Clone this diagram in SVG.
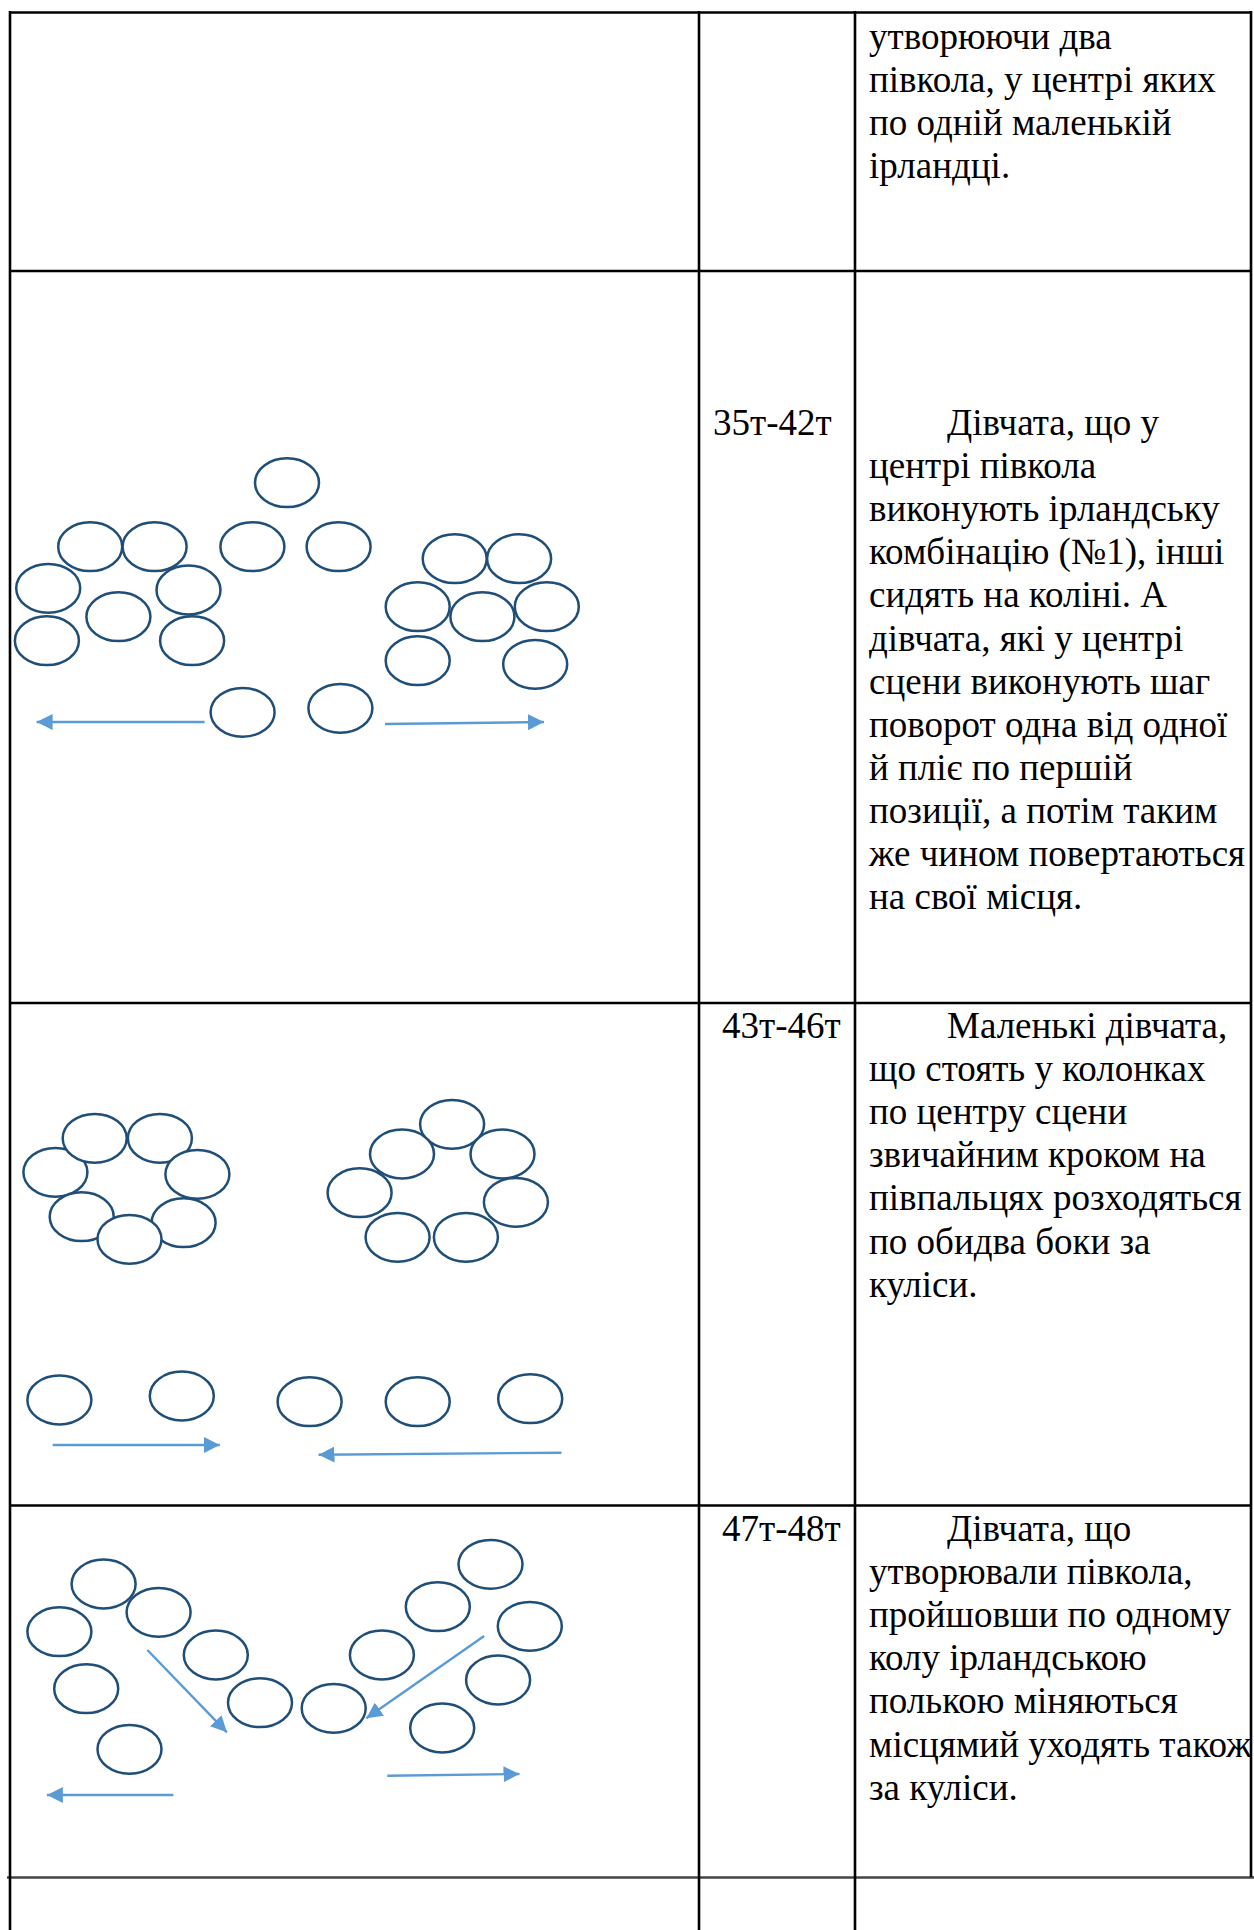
<svg xmlns="http://www.w3.org/2000/svg" width="1254" height="1930" viewBox="0 0 1254 1930">
<style>
.b{stroke:#000;stroke-width:2.6;fill:none}
.g{stroke:#444;stroke-width:2.4;fill:none}
.c{fill:#fff;stroke:#1F4E79;stroke-width:2.5}
.a{stroke:#5B9BD5;stroke-width:2.4;fill:none;marker-end:url(#ah)}
.t{font-family:"Liberation Serif","Times New Roman",serif;font-size:37px;fill:#000}
</style>
<defs>
<marker id="ah" viewBox="0 0 16 16" refX="16" refY="8" markerWidth="16" markerHeight="16" markerUnits="userSpaceOnUse" orient="auto"><path d="M0,0 L16,8 L0,16 z" fill="#5B9BD5"/></marker>
<clipPath id="clip"><rect x="0" y="0" width="1252" height="1930"/></clipPath>
</defs>
<rect width="1254" height="1930" fill="#fff"/>
<g id="table">
<line class="b" x1="10" y1="12.5" x2="1251" y2="12.5"/>
<line class="b" x1="10" y1="271" x2="1251" y2="271"/>
<line class="b" x1="10" y1="1003" x2="1251" y2="1003"/>
<line class="b" x1="10" y1="1505.5" x2="1251" y2="1505.5"/>
<line class="g" x1="7" y1="1877.5" x2="1254" y2="1877.5"/>
<line class="b" x1="10" y1="11" x2="10" y2="1930"/>
<line class="b" x1="699" y1="11" x2="699" y2="1930"/>
<line class="b" x1="855" y1="11" x2="855" y2="1930"/>
<line class="b" x1="1251" y1="11" x2="1251" y2="1877"/>
</g>
<g id="texts" class="t" clip-path="url(#clip)">
<text x="869" y="49">утворюючи два</text>
<text x="869" y="92.1">півкола, у центрі яких</text>
<text x="869" y="135.2">по одній маленькій</text>
<text x="869" y="178.3">ірландці.</text>
<text x="713" y="435">35т-42т</text>
<text x="947" y="435">Дівчата, що у</text>
<text x="869" y="478.1">центрі півкола</text>
<text x="869" y="521.2">виконують ірландську</text>
<text x="869" y="564.3">комбінацію (№1), інші</text>
<text x="869" y="607.4">сидять на коліні. А</text>
<text x="869" y="650.5">дівчата, які у центрі</text>
<text x="869" y="693.6">сцени виконують шаг</text>
<text x="869" y="736.7">поворот одна від одної</text>
<text x="869" y="779.8">й пліє по першій</text>
<text x="869" y="822.9">позиції, а потім таким</text>
<text x="869" y="866">же чином повертаються</text>
<text x="869" y="909.1">на свої місця.</text>
<text x="722" y="1038">43т-46т</text>
<text x="947" y="1038">Маленькі дівчата,</text>
<text x="869" y="1081.1">що стоять у колонках</text>
<text x="869" y="1124.2">по центру сцени</text>
<text x="869" y="1167.3">звичайним кроком на</text>
<text x="869" y="1210.4">півпальцях розходяться</text>
<text x="869" y="1253.5">по обидва боки за</text>
<text x="869" y="1296.6">куліси.</text>
<text x="722" y="1541">47т-48т</text>
<text x="947" y="1541">Дівчата, що</text>
<text x="869" y="1584.1">утворювали півкола,</text>
<text x="869" y="1627.2">пройшовши по одному</text>
<text x="869" y="1670.3">колу ірландською</text>
<text x="869" y="1713.4">полькою міняються</text>
<text x="869" y="1756.5">місцямий уходять також</text>
<text x="869" y="1799.6">за куліси.</text>
</g>
<g id="dancers-row2">
<ellipse class="c" cx="287" cy="482.7" rx="32" ry="24.4"/>
<ellipse class="c" cx="90.2" cy="546.7" rx="32" ry="24.4"/>
<ellipse class="c" cx="154.6" cy="546.7" rx="32" ry="24.4"/>
<ellipse class="c" cx="252.4" cy="546.7" rx="32" ry="24.4"/>
<ellipse class="c" cx="338.6" cy="546.7" rx="32" ry="24.4"/>
<ellipse class="c" cx="48.2" cy="588.3" rx="32" ry="24.4"/>
<ellipse class="c" cx="188.5" cy="590" rx="32" ry="24.4"/>
<ellipse class="c" cx="118.4" cy="616.7" rx="32" ry="24.4"/>
<ellipse class="c" cx="46.9" cy="640.7" rx="32" ry="24.4"/>
<ellipse class="c" cx="192.1" cy="640.7" rx="32" ry="24.4"/>
<ellipse class="c" cx="454.7" cy="558.7" rx="32" ry="24.4"/>
<ellipse class="c" cx="519.1" cy="558.7" rx="32" ry="24.4"/>
<ellipse class="c" cx="417.7" cy="606.7" rx="32" ry="24.4"/>
<ellipse class="c" cx="546.8" cy="606.7" rx="32" ry="24.4"/>
<ellipse class="c" cx="482.4" cy="616.7" rx="32" ry="24.4"/>
<ellipse class="c" cx="417.7" cy="660.7" rx="32" ry="24.4"/>
<ellipse class="c" cx="535.2" cy="664.3" rx="32" ry="24.4"/>
<ellipse class="c" cx="242.6" cy="712.3" rx="32" ry="24.4"/>
<ellipse class="c" cx="340.4" cy="708.3" rx="32" ry="24.4"/>
</g>
<g id="dancers-row3">
<ellipse class="c" cx="55.4" cy="1172.3" rx="32" ry="24.4"/>
<ellipse class="c" cx="94.7" cy="1138.3" rx="32" ry="24.4"/>
<ellipse class="c" cx="159.9" cy="1138.3" rx="32" ry="24.4"/>
<ellipse class="c" cx="197.4" cy="1174.3" rx="32" ry="24.4"/>
<ellipse class="c" cx="81.7" cy="1216.7" rx="32" ry="24.4"/>
<ellipse class="c" cx="183.6" cy="1222.7" rx="32" ry="24.4"/>
<ellipse class="c" cx="129.5" cy="1239.3" rx="32" ry="24.4"/>
<ellipse class="c" cx="452.1" cy="1124.3" rx="32" ry="24.4"/>
<ellipse class="c" cx="402" cy="1154" rx="32" ry="24.4"/>
<ellipse class="c" cx="502.5" cy="1154" rx="32" ry="24.4"/>
<ellipse class="c" cx="359.6" cy="1192.7" rx="32" ry="24.4"/>
<ellipse class="c" cx="515.9" cy="1202.3" rx="32" ry="24.4"/>
<ellipse class="c" cx="397.6" cy="1237.3" rx="32" ry="24.4"/>
<ellipse class="c" cx="465.9" cy="1237.3" rx="32" ry="24.4"/>
<ellipse class="c" cx="59.4" cy="1400" rx="32" ry="24.4"/>
<ellipse class="c" cx="181.8" cy="1396" rx="32" ry="24.4"/>
<ellipse class="c" cx="309.6" cy="1401.7" rx="32" ry="24.4"/>
<ellipse class="c" cx="417.7" cy="1401.7" rx="32" ry="24.4"/>
<ellipse class="c" cx="530.2" cy="1398.7" rx="32" ry="24.4"/>
</g>
<g id="dancers-row4">
<ellipse class="c" cx="103.6" cy="1584" rx="32" ry="24.4"/>
<ellipse class="c" cx="59.4" cy="1631.7" rx="32" ry="24.4"/>
<ellipse class="c" cx="158.6" cy="1612.3" rx="32" ry="24.4"/>
<ellipse class="c" cx="215.8" cy="1655" rx="32" ry="24.4"/>
<ellipse class="c" cx="86.2" cy="1688.7" rx="32" ry="24.4"/>
<ellipse class="c" cx="260" cy="1702.7" rx="32" ry="24.4"/>
<ellipse class="c" cx="129.5" cy="1749.3" rx="32" ry="24.4"/>
<ellipse class="c" cx="333.7" cy="1708.3" rx="32" ry="24.4"/>
<ellipse class="c" cx="381.9" cy="1655" rx="32" ry="24.4"/>
<ellipse class="c" cx="437.8" cy="1606.7" rx="32" ry="24.4"/>
<ellipse class="c" cx="490.5" cy="1564.3" rx="32" ry="24.4"/>
<ellipse class="c" cx="529.8" cy="1626.3" rx="32" ry="24.4"/>
<ellipse class="c" cx="498.1" cy="1680" rx="32" ry="24.4"/>
<ellipse class="c" cx="442.2" cy="1728" rx="32" ry="24.4"/>
</g>
<g id="connectors">
<line class="a" x1="204.6" y1="722" x2="36.6" y2="722"/>
<line class="a" x1="385" y1="724" x2="544" y2="722"/>
<line class="a" x1="52.7" y1="1445" x2="219.8" y2="1445"/>
<line class="a" x1="561.5" y1="1452.7" x2="318.5" y2="1454.7"/>
<line class="a" x1="147.4" y1="1650" x2="226.9" y2="1732.3"/>
<line class="a" x1="484.2" y1="1636" x2="366.3" y2="1718.3"/>
<line class="a" x1="173.3" y1="1795" x2="46.9" y2="1795"/>
<line class="a" x1="387.3" y1="1775.7" x2="519.5" y2="1774"/>
</g>
</svg>
